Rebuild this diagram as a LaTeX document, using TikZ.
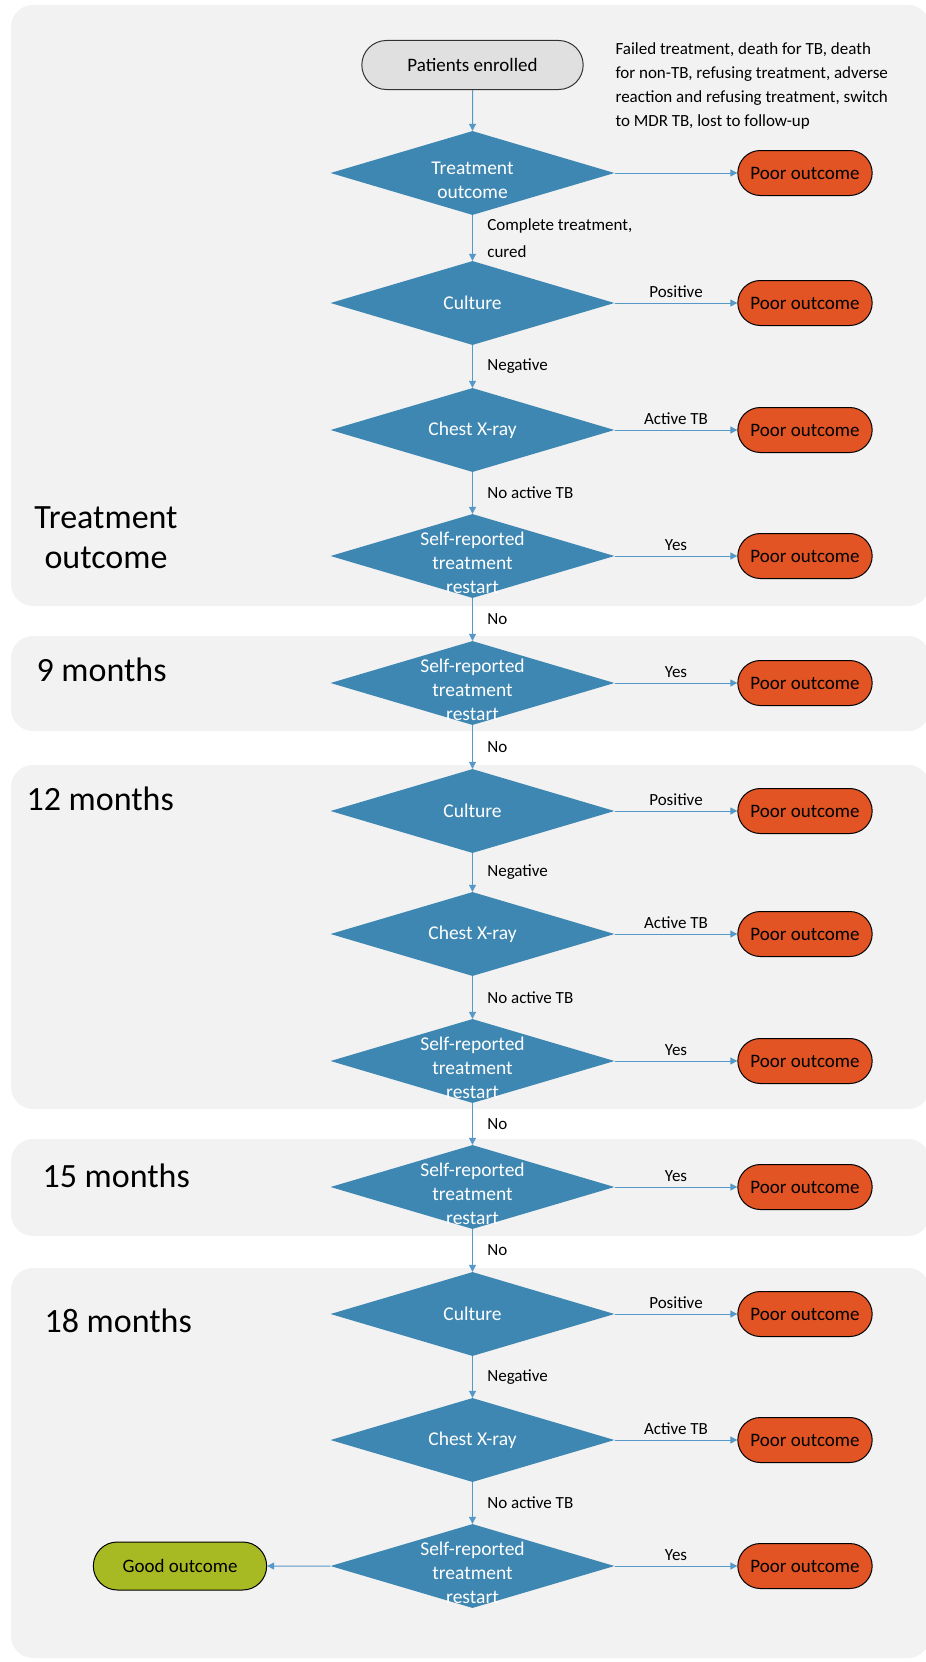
\documentclass[tikz,border=0pt]{standalone}
\usepackage{fontspec}
\setmainfont{Carlito}
\usepackage{xcolor}
\usepackage{tikz}
\usetikzlibrary{arrows.meta}
\usetikzlibrary{shapes.geometric}
\usetikzlibrary{shapes.misc}

\definecolor{panelgray}{RGB}{242,242,242}
\definecolor{decblue}{RGB}{62,135,178}
\definecolor{arrowblue}{RGB}{86,152,200}
\definecolor{poorred}{RGB}{226,84,36}
\definecolor{goodgreen}{RGB}{168,186,35}
\definecolor{startgray}{RGB}{224,224,224}

\tikzset{
  panel/.style={fill=panelgray, draw=none, rounded corners=22pt},
  dtext/.style={text=white, align=center, font=\fontsize{19.5}{24}\selectfont},
  decision/.style={diamond, fill=decblue, draw=none, inner sep=0pt,
    minimum width=284pt, minimum height=84pt, label={[dtext]center:#1}},
  decisionlow/.style={decision, label={[dtext, yshift=-7pt]center:#1}},
  poor/.style={rounded rectangle, fill=poorred, draw=black, line width=1pt,
    minimum width=141pt, minimum height=45pt, font=\fontsize{19}{22}\selectfont},
  good/.style={poor, fill=goodgreen, minimum width=180pt, minimum height=48pt},
  startbox/.style={poor, fill=startgray, draw=black!80, minimum width=228pt, minimum height=49pt},
  arr/.style={draw=arrowblue, line width=1pt, -{Triangle[length=7pt,width=7pt]}},
  lab/.style={font=\fontsize{17}{24}\selectfont},
  sect/.style={font=\fontsize{34}{40}\selectfont, align=center}
}

\begin{document}
\begin{tikzpicture}[x=1pt, y=-1pt]
  \useasboundingbox (0,0) rectangle (926,1662);
  \fill[panel] (11,5) rectangle (930,606);
  \fill[panel] (11,636) rectangle (930,731);
  \fill[panel] (11,765) rectangle (930,1109);
  \fill[panel] (11,1139) rectangle (930,1236);
  \fill[panel] (11,1268) rectangle (930,1658);

  \node[sect] (s0) at (106,538) {Treatment\\outcome};
  \node[sect, anchor=west] (s9) at (33,670) {9 months};
  \node[sect, anchor=west] (s12) at (23,799) {12 months};
  \node[sect, anchor=west] (s15) at (39,1176) {15 months};
  \node[sect, anchor=west] (s18) at (41,1321) {18 months};

  \node[startbox] (start) at (472.5,65) {Patients enrolled};
  \node[decisionlow={Treatment\\outcome}] (d1) at (472.5,173) {};
  \node[decision=Culture] (d2) at (472.5,303) {};
  \node[decision=Chest X-ray] (d3) at (472.5,430) {};
  \node[decisionlow={Self-reported\\treatment\\restart}] (d4) at (472.5,556) {};
  \node[decisionlow={Self-reported\\treatment\\restart}] (d5) at (472.5,683) {};
  \node[decision=Culture] (d6) at (472.5,811) {};
  \node[decision=Chest X-ray] (d7) at (472.5,934) {};
  \node[decisionlow={Self-reported\\treatment\\restart}] (d8) at (472.5,1061) {};
  \node[decisionlow={Self-reported\\treatment\\restart}] (d9) at (472.5,1187) {};
  \node[decision=Culture] (d10) at (472.5,1314) {};
  \node[decision=Chest X-ray] (d11) at (472.5,1440) {};
  \node[decisionlow={Self-reported\\treatment\\restart}] (d12) at (472.5,1566) {};

  \foreach \i/\y in {1/173, 2/303, 3/430, 4/556, 5/683, 6/811, 7/934, 8/1061, 9/1187, 10/1314, 11/1440, 12/1566}
    \node[poor] (p\i) at (805,\y) {Poor outcome};
  \node[good] (good) at (180,1566) {Good outcome};

  \draw[arr] (start) -- (d1);
  \draw[arr] (d1) -- node[lab, right=11pt, align=left, font=\fontsize{17}{26.5}\selectfont] {Complete treatment,\\cured} (d2);
  \draw[arr] (d2) -- node[lab, right=11pt] {Negative} (d3);
  \draw[arr] (d3) -- node[lab, right=11pt] {No active TB} (d4);
  \draw[arr] (d4) -- node[lab, right=11pt] {No} (d5);
  \draw[arr] (d5) -- node[lab, right=11pt] {No} (d6);
  \draw[arr] (d6) -- node[lab, right=11pt] {Negative} (d7);
  \draw[arr] (d7) -- node[lab, right=11pt] {No active TB} (d8);
  \draw[arr] (d8) -- node[lab, right=11pt] {No} (d9);
  \draw[arr] (d9) -- node[lab, right=11pt] {No} (d10);
  \draw[arr] (d10) -- node[lab, right=11pt] {Negative} (d11);
  \draw[arr] (d11) -- node[lab, right=11pt] {No active TB} (d12);

  \draw[arr] (d1) -- node[lab, pos=0, anchor=south west, align=left, xshift=-3pt, yshift=40pt]
    {Failed treatment, death for TB, death\\for non-TB, refusing treatment, adverse\\reaction and refusing treatment, switch\\to MDR TB, lost to follow-up} (p1);
  \draw[arr] (d2) -- node[lab, above=2pt] {Positive} (p2);
  \draw[arr] (d3) -- node[lab, above=2pt] {Active TB} (p3);
  \draw[arr] (d4) -- node[lab, above=2pt] {Yes} (p4);
  \draw[arr] (d5) -- node[lab, above=2pt] {Yes} (p5);
  \draw[arr] (d6) -- node[lab, above=2pt] {Positive} (p6);
  \draw[arr] (d7) -- node[lab, above=2pt] {Active TB} (p7);
  \draw[arr] (d8) -- node[lab, above=2pt] {Yes} (p8);
  \draw[arr] (d9) -- node[lab, above=2pt] {Yes} (p9);
  \draw[arr] (d10) -- node[lab, above=2pt] {Positive} (p10);
  \draw[arr] (d11) -- node[lab, above=2pt] {Active TB} (p11);
  \draw[arr] (d12) -- node[lab, above=2pt] {Yes} (p12);
  \draw[arr] (d12) -- (good);
\end{tikzpicture}
\end{document}
